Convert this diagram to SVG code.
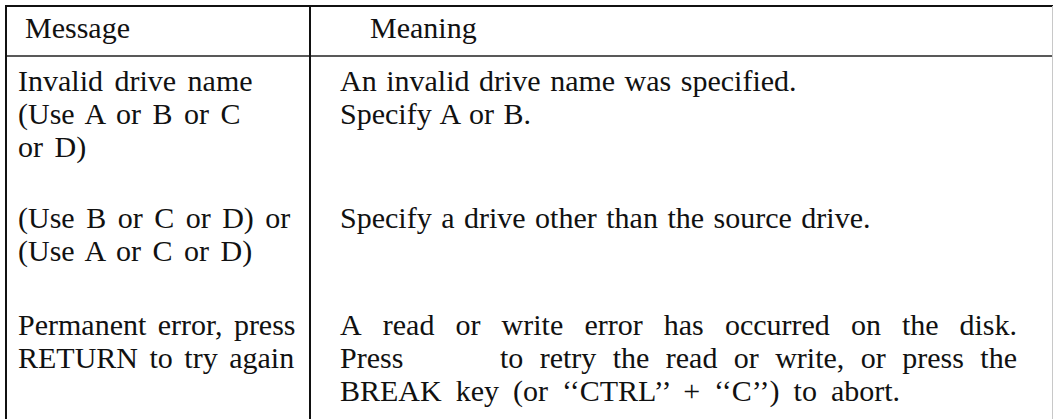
<svg xmlns="http://www.w3.org/2000/svg" width="1054" height="419" viewBox="0 0 1054 419">
<style>
  text { font-family: "Liberation Serif", "Times New Roman", serif; font-size: 30px; fill: #111; }
  .lc { word-spacing: 4px; }
  .rc { word-spacing: 2px; }
  .rule { stroke: #111; stroke-width: 2; fill: none; }
  .thin { stroke: #222; stroke-width: 1.5; fill: none; }
  .faint { stroke: #c8c8c8; stroke-width: 1; fill: none; }
</style>
<rect x="0" y="0" width="1054" height="419" fill="#ffffff"/>
<g id="grid">
  <line class="rule" x1="5" y1="6" x2="1053" y2="6"/>
  <line class="thin" x1="5" y1="56" x2="1053" y2="56"/>
  <line class="rule" x1="6" y1="5" x2="6" y2="419"/>
  <line class="rule" x1="310" y1="5" x2="310" y2="419"/>
  <line class="faint" x1="1052.5" y1="6" x2="1052.5" y2="419"/>
</g>
<g id="header-message"><text x="25" y="38">Message</text></g>
<g id="header-meaning"><text x="370" y="38">Meaning</text></g>
<g id="row1-message">
  <text class="lc" x="18" y="91">Invalid drive name</text>
  <text class="lc" x="18" y="124">(Use A or B or C</text>
  <text class="lc" x="18" y="157">or D)</text>
</g>
<g id="row1-meaning">
  <text class="rc" x="340" y="91">An invalid drive name was specified.</text>
  <text class="rc" x="340" y="124">Specify A or B.</text>
</g>
<g id="row2-message">
  <text class="lc" x="18" y="228">(Use B or C or D) or</text>
  <text class="lc" x="18" y="261">(Use A or C or D)</text>
</g>
<g id="row2-meaning">
  <text class="rc" x="340" y="228">Specify a drive other than the source drive.</text>
</g>
<g id="row3-message">
  <text class="lc" x="18" y="335">Permanent error, press</text>
  <text class="lc" x="18" y="368">RETURN to try again</text>
</g>
<g id="row3-meaning">
  <text y="335"><tspan x="340">A</tspan><tspan x="382.8">read</tspan><tspan x="455.5">or</tspan><tspan x="501.6">write</tspan><tspan x="584.4">error</tspan><tspan x="663.8">has</tspan><tspan x="724.9">occurred</tspan><tspan x="850.9">on</tspan><tspan x="902">the</tspan><tspan x="1017" text-anchor="end">disk.</tspan></text>
  <text y="368"><tspan x="340">Press</tspan><tspan x="500">to</tspan><tspan x="539.7">retry</tspan><tspan x="612.7">the</tspan><tspan x="665.8">read</tspan><tspan x="733.8">or</tspan><tspan x="775.2">write,</tspan><tspan x="860.8">or</tspan><tspan x="902.2">press</tspan><tspan x="1017" text-anchor="end">the</tspan></text>
  <text x="340" y="401" style="word-spacing:6.5px">BREAK key (or ‘‘CTRL’’ + ‘‘C’’) to abort.</text>
</g>
</svg>
